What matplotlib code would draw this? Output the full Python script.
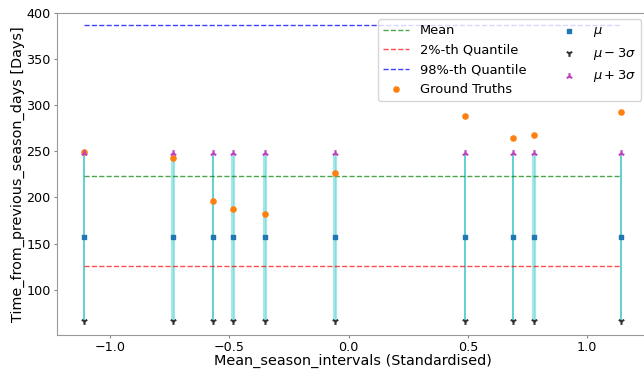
import numpy as np
import matplotlib
matplotlib.use("Agg")
import matplotlib.pyplot as plt

# standardised mean season intervals (x) and observed gaps (days)
x_std = [-1.109, -0.737, -0.568, -0.484, -0.352, -0.058, 0.488, 0.690, 0.776, 1.142]
ground_truth = [249.3, 242.4, 195.7, 187.1, 182.0, 226.5, 288.3, 264.5, 267.0, 292.7]
mu = [157.0] * 10
mu_minus_3s = [66.0] * 10
mu_plus_3s = [248.0] * 10
thick = [False, True, False, True, True, True, False, False, True, False]

mean_val = 223.6
q02 = 125.5
q98 = 386.0

fig = plt.figure(figsize=(6.44, 3.70), dpi=100)
ax = fig.add_axes([57 / 644, 35 / 370, 591 / 644, 322.5 / 370])

# interval lines
for xi, lo, hi, tk in zip(x_std, mu_minus_3s, mu_plus_3s, thick):
    if tk:
        ax.vlines(xi, lo, hi, color='#9fe6e6', lw=3.0, alpha=0.9, zorder=1)
        ax.vlines(xi, lo, hi, color='#6fd6d6', lw=0.9, alpha=0.6, zorder=1)
    else:
        ax.vlines(xi, lo, hi, color='#45caca', lw=1.2, zorder=1)

xmin, xmax = min(x_std), max(x_std)
ax.plot([xmin, xmax], [mean_val, mean_val], ls='--', color='g', alpha=0.7, lw=1, label='Mean')
ax.plot([xmin, xmax], [q02, q02], ls='--', color='r', alpha=0.7, lw=1, label='2%-th Quantile')
ax.plot([xmin, xmax], [q98, q98], ls='--', color='b', alpha=0.75, lw=1, label='98%-th Quantile')

ax.scatter(x_std, ground_truth, color='tab:orange', s=14, zorder=3, label='Ground Truths')
ax.scatter(x_std, mu, marker='s', color='tab:blue', s=12, zorder=3, label=r'$\mu$')
ax.scatter(x_std, mu_minus_3s, marker='1', color='#333333', s=24, zorder=3, label=r'$\mu - 3\sigma$')
ax.scatter(x_std, mu_plus_3s, marker='2', color='#c040c0', s=24, zorder=3, label=r'$\mu + 3\sigma$')

ax.set_xlim(-1.222, 1.255)
ax.set_ylim(51, 400)
ax.set_xticks([-1.0, -0.5, 0.0, 0.5, 1.0])
ax.set_yticks([100, 150, 200, 250, 300, 350, 400])
ax.tick_params(labelsize=9.2, color='#888888', length=2.5, pad=2)
for s in ax.spines.values():
    s.set_color('#999999')

ax.set_xlabel('Mean_season_intervals (Standardised)', fontsize=10.4, labelpad=0)
ax.set_ylabel('Time_from_previous_season_days [Days]', fontsize=10.4, labelpad=1)

ax.legend(loc='upper right', ncol=2, fontsize=9.4, columnspacing=2.3, handlelength=2.0)

fig.savefig('out.png', dpi=100)
